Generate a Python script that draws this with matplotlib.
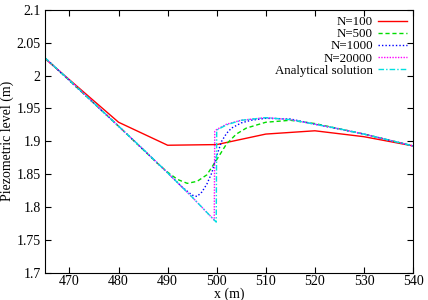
import numpy as np
import matplotlib
matplotlib.use('Agg')
import matplotlib.pyplot as plt

plt.rcParams['font.family'] = 'Liberation Serif'
plt.rcParams['font.size'] = 10

# N=100
x100 = [465, 480, 490, 500, 510, 520, 530, 540]
h100 = [2.026, 1.929, 1.894, 1.895, 1.911, 1.916, 1.907, 1.893]

# N=500
x500 = [465, 480, 488, 490, 492, 494, 496, 498, 500, 502, 504, 506, 510, 515, 520, 530, 540]
h500 = [2.027, 1.923, 1.866, 1.853, 1.842, 1.836, 1.839, 1.849, 1.872, 1.896, 1.911, 1.920,
        1.929, 1.932, 1.927, 1.911, 1.893]

# N=1000
x1000 = [465, 480, 490, 493, 495, 496, 497, 498, 499, 500, 501, 502, 503, 505, 507, 510,
         515, 520, 530, 540]
h1000 = [2.027, 1.923, 1.852, 1.830, 1.818, 1.816, 1.823, 1.835, 1.852, 1.878, 1.900, 1.912,
         1.920, 1.928, 1.932, 1.935, 1.934, 1.926, 1.911, 1.893]

# N=20000
x20000 = [465, 470, 475, 480, 485, 490, 495, 499.5, 499.6, 500, 502, 505, 510, 515, 520,
          525, 530, 535, 540]
h20000 = [2.027, 1.993, 1.958, 1.923, 1.888, 1.852, 1.815, 1.780, 1.915, 1.918, 1.926,
          1.932, 1.936, 1.933, 1.926, 1.919, 1.911, 1.902, 1.893]

# analytical
xan = [465, 470, 475, 480, 485, 490, 495, 499.9, 500, 502, 505, 510, 515, 520, 525, 530, 535, 540]
han = [2.027, 1.993, 1.958, 1.923, 1.888, 1.852, 1.815, 1.777, 1.917, 1.925, 1.932, 1.936,
       1.933, 1.926, 1.919, 1.911, 1.902, 1.893]

fig = plt.figure(figsize=(4.28, 3.0), dpi=100)
ax = fig.add_axes([0.105, 0.091, 0.86, 0.876])

ax.plot(x100, h100, color='#ff0000', lw=1, ls='-', label='N=100')
ax.plot(x500, h500, color='#00dd00', lw=1, ls=(0, (3, 2)), label='N=500')
ax.plot(x1000, h1000, color='#0000ff', lw=1, ls=(0, (1, 1.5)), label='N=1000')
ax.plot(x20000, h20000, color='#ff00ff', lw=1, ls=(0, (1, 1)), label='N=20000')
ax.plot(xan, han, color='#00e0e0', lw=1, ls=(0, (4, 1.5, 1, 1.5)), label='Analytical solution')

ax.set_xlim(465, 540)
ax.set_ylim(1.7, 2.1)
ax.set_xticks([470, 480, 490, 500, 510, 520, 530, 540])
ax.set_yticks([1.7, 1.75, 1.8, 1.85, 1.9, 1.95, 2.0, 2.05, 2.1])
ax.set_yticklabels(['1.7', '1.75', '1.8', '1.85', '1.9', '1.95', '2', '2.05', '2.1'])
ax.tick_params(direction='in', top=True, right=True, length=4, pad=3)
ax.tick_params(axis='x', pad=2)
ax.set_xlabel('x (m)', labelpad=-1)
ax.set_ylabel('Piezometric level (m)', labelpad=2)

ax.legend(loc='upper right', frameon=False, markerfirst=False, fontsize=9.3,
          handlelength=2.2, labelspacing=0.0, borderaxespad=0.2, borderpad=0.3,
          handletextpad=0.4)

fig.savefig('out.png', dpi=100)
